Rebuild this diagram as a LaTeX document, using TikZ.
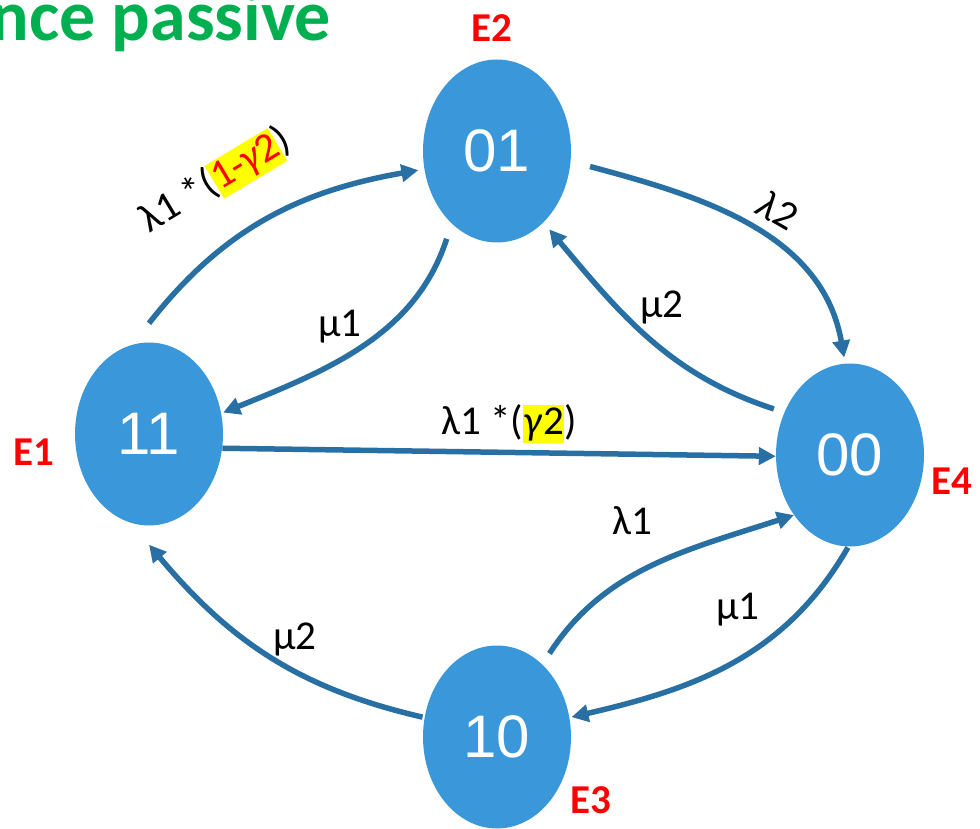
\documentclass[tikz,border=0pt]{standalone}
\usepackage{fontspec}
\setmainfont{Carlito}
\newfontfamily\digitfont{Liberation Sans}
\usetikzlibrary{arrows.meta,shapes.geometric}
\definecolor{statefill}{RGB}{58,152,218}
\definecolor{edgeblue}{RGB}{40,112,164}
\definecolor{titlegreen}{RGB}{0,176,80}
\definecolor{hlyellow}{RGB}{255,255,0}
\definecolor{labelred}{RGB}{255,0,0}
% yellow highlight behind a piece of a rate label
\newcommand\hlbox[1]{{\setlength{\fboxsep}{0.6pt}\colorbox{hlyellow}{\rule[-0.2em]{0pt}{0.9em}#1}}}

\begin{document}
\begin{tikzpicture}[x=1pt,y=1pt,
  state/.style={ellipse, fill=statefill, draw=none, minimum width=148pt,
    minimum height=183pt, inner sep=0pt, text=white,
    font=\digitfont\fontsize{60}{60}\selectfont},
  edge/.style={draw=edgeblue, line width=5.5pt,
    -{Triangle[length=17pt,width=17pt]}},
  rate/.style={font=\fontsize{41}{41}\selectfont, inner sep=0pt},
  tag/.style={font=\bfseries\fontsize{41}{41}\selectfont, text=labelred, inner sep=0pt}]
\useasboundingbox (0,0) rectangle (980,828);

% title fragment
\node[font=\bfseries\fontsize{72}{72}\selectfont, text=titlegreen,
  anchor=base east, inner sep=0pt] (title) at (331,787) {nce passive};

% states
\node[state] (n01) at (497,677) {01};
\node[state] (n11) at (149,394) {11};
\node[state] (n00) at (850,373) {00};
\node[state] (n10) at (497,91) {10};

% state tags
\node[tag] (e1) at (34,376) {E1};
\node[tag] (e2) at (492,800) {E2};
\node[tag] (e3) at (591,28) {E3};
\node[tag] (e4) at (952,347) {E4};

% transitions
\draw[edge, shorten >=6pt] ([yshift=19pt]n11.north) to[out=52,in=190] (n01.194);
\draw[edge, shorten <=16pt, shorten >=2pt] (n01.238.6) to[out=-108,in=22] (n11.16);
\draw[edge, shorten <=20pt, shorten >=6pt] (n01.-8.5) to[out=-15,in=100] (n00.93);
\draw[edge, shorten <=11pt, shorten >=9pt] (n00.147) to[out=162,in=-50] (n01.-57.5);
\draw[edge] (n11.-11.5) -- (n00.181);
\draw[edge, shorten <=13pt] (n10.58) to[out=57,in=198] (n00.227.5);
\draw[edge, shorten <=1pt, shorten >=2pt] (n00.269) to[out=-120,in=13] (n10.15);
\draw[edge, shorten <=2pt] (n10.165) to[out=167,in=-50] ([yshift=-19pt]n11.south);

% rates
\node[rate, rotate=31] (r1) at (216,647)
  {λ1 *(\hlbox{\textcolor{labelred}{1-{\itshape γ}2}})};
\node[rate] (r2) at (340,501) {µ1};
\node[rate, rotate=-30] (r3) at (778,618) {{\itshape λ}2};
\node[rate] (r4) at (662,520) {µ2};
\node[rate] (r5) at (509,404) {λ1 *(\hlbox{{\itshape γ}}\hlbox{2})};
\node[rate] (r6) at (632,307) {λ1};
\node[rate] (r7) at (738,218) {µ1};
\node[rate] (r8) at (295,188) {µ2};
\end{tikzpicture}
\end{document}
